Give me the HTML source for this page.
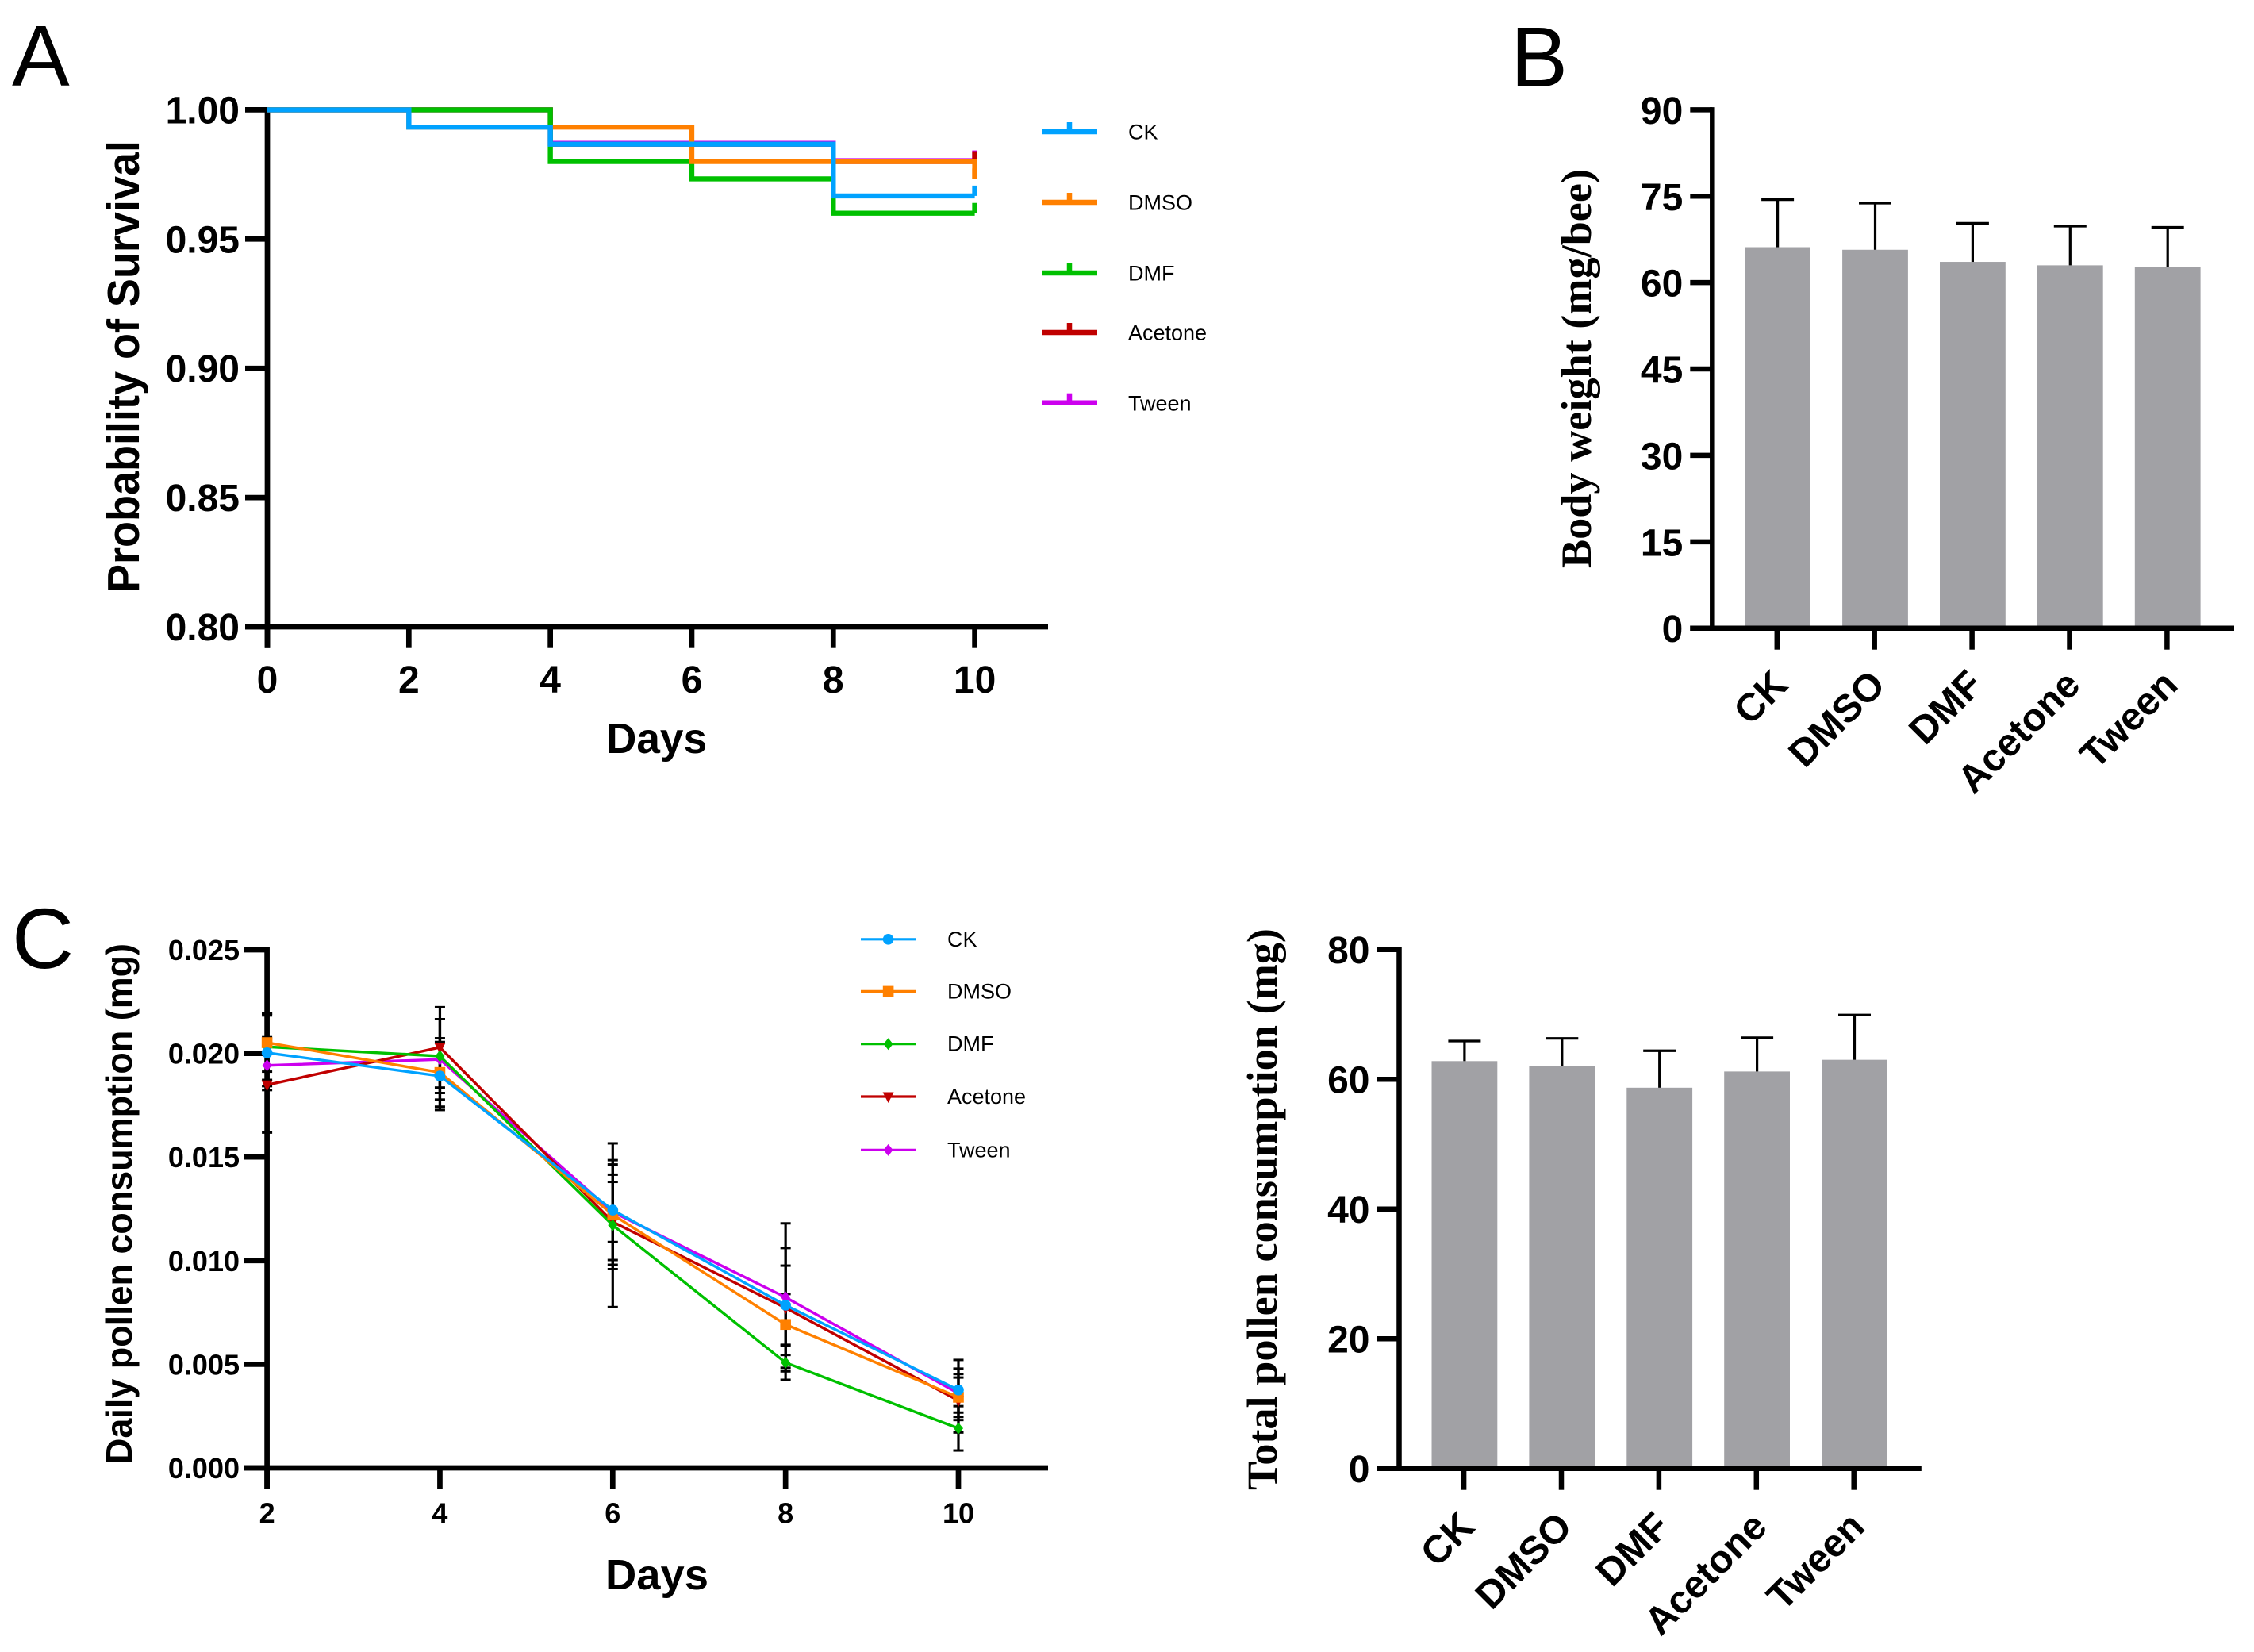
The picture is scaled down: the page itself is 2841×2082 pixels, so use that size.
<!DOCTYPE html>
<html lang="en">
<head>
<meta charset="utf-8">
<title>Survival, body weight and pollen consumption charts</title>
<style>
html,body{margin:0;padding:0;background:#fff;}
svg{display:block;}
</style>
</head>
<body>
<svg id="fig" xmlns="http://www.w3.org/2000/svg" width="2841" height="2082" viewBox="0 0 2841 2082">
<rect width="2841" height="2082" fill="#ffffff"></rect>
</svg>
<script>
// ---------- shared data ----------
const groupNames = ['CK', 'DMSO', 'DMF', 'Acetone', 'Tween'];
const groupSlugs = ['ck', 'dmso', 'dmf', 'acetone', 'tween'];
const groupColors = ['#00a2ff', '#ff8000', '#00c000', '#c00000', '#cc00ee'];

// ---------- panel A: survival ----------
const survivalDays = [0, 2, 4, 6, 8, 10];
const survivalCK = [1, 0.9933, 0.9867, 0.9867, 0.9667, 0.9667];
const survivalDMSO = [1, 0.9933, 0.9933, 0.98, 0.98, 0.9733];
const survivalDMF = [1, 1, 0.98, 0.9733, 0.96, 0.96];
const survivalAcetone = [1, 1, 0.9867, 0.9867, 0.98, 0.98];
const survivalTween = [1, 1, 0.987, 0.987, 0.9803, 0.9803];
const survivalYTicks = ['0.80', '0.85', '0.90', '0.95', '1.00'];
const survivalXTicks = ['0', '2', '4', '6', '8', '10'];

// ---------- panel B: body weight ----------
const weightMeans = [66.15, 65.7, 63.6, 63.0, 62.7];
const weightUpper = [74.4, 73.8, 70.3, 69.8, 69.6];
const weightYTicks = ['0', '15', '30', '45', '60', '75', '90'];

// ---------- panel C: daily consumption ----------
const dailyDays = [2, 4, 6, 8, 10];
const dailyCK = [0.02003, 0.01891, 0.01244, 0.00785, 0.00376];
const dailyDMSO = [0.02052, 0.01908, 0.01222, 0.00692, 0.00341];
const dailyDMF = [0.02032, 0.01987, 0.01171, 0.00508, 0.00191];
const dailyAcetone = [0.01848, 0.02029, 0.01187, 0.00772, 0.00325];
const dailyTween = [0.01942, 0.01971, 0.01235, 0.00823, 0.0036];
const dailyErrCK = [0.0018, 0.00164, 0.00241, 0.00191, 0.00145];
const dailyErrDMSO = [0.0014, 0.00165, 0.00242, 0.00147, 0.00095];
const dailyErrDMF = [0.0016, 0.00178, 0.00395, 0.00083, 0.00107];
const dailyErrAcetone = [0.0023, 0.00194, 0.00228, 0.00289, 0.00154];
const dailyErrTween = [0.001, 0.00194, 0.00145, 0.00357, 0.00093];
const dailyYTicks = ['0.000', '0.005', '0.010', '0.015', '0.020', '0.025'];
const dailyXTicks = ['2', '4', '6', '8', '10'];

// ---------- panel D: total consumption ----------
const totalMeans = [62.8, 62.06, 58.7, 61.2, 63.0];
const totalUpper = [65.9, 66.3, 64.4, 66.4, 69.9];
const totalYTicks = ['0', '20', '40', '60', '80'];

// ---------- helpers ----------
const NS = 'http://www.w3.org/2000/svg';
const SANS = '"Liberation Sans", Arial, sans-serif';
const SERIF = '"Liberation Serif", "Times New Roman", serif';
const root = document.getElementById('fig');

function make(parent, tag, name, attrs) {
  const el = document.createElementNS(NS, tag);
  
  
  for (const k in attrs) el.setAttribute(k, attrs[k]);
  parent.appendChild(el);
  return el;
}
function group(parent, name) { return make(parent, 'g', name, {}); }
function line(parent, name, x1, y1, x2, y2, w, color, cap) {
  return make(parent, 'line', name, {x1: x1, y1: y1, x2: x2, y2: y2, stroke: color || '#000', 'stroke-width': w, 'stroke-linecap': cap || 'butt'});
}
function text(parent, name, str, x, y, size, opts) {
  const o = opts || {};
  const attrs = {x: x, y: y, 'font-size': size, 'font-family': o.family || SANS, 'font-weight': o.weight || 'bold', 'text-anchor': o.anchor || 'start', fill: '#000'};
  if (o.rotate !== undefined) attrs.transform = 'rotate(' + o.rotate + ' ' + x + ' ' + y + ')';
  if (o.len) { attrs.textLength = o.len; attrs.lengthAdjust = 'spacingAndGlyphs'; }
  const el = make(parent, 'text', name, attrs);
  el.textContent = str;
  return el;
}
function axesFrame(g, axisX, axisY, leftEnd, rightEnd, topY, bottomTick, sw) {
  line(g, 'y-axis-line', axisX, topY - sw / 2, axisX, bottomTick, sw);
  line(g, 'x-axis-line', leftEnd, axisY, rightEnd, axisY, sw);
}

// ---------- panel letters ----------
text(root, 'panel-label-a', 'A', 15, 108, 109, {weight: 'normal'});
text(root, 'panel-label-b', 'B', 1904, 109, 108, {weight: 'normal'});
text(root, 'panel-label-c', 'C', 15, 1220, 108, {weight: 'normal'});

// ---------- panel A ----------
(function () {
  const g = group(root, 'survival-chart');
  const xA = d => 337 + (d / 10) * (1228.6 - 337);
  const yA = v => 790 - ((v - 0.8) / 0.2) * (790 - 138.4);
  const sw = 6.7;

  survivalYTicks.forEach(t => {
    const y = yA(parseFloat(t));
    line(g, 'y-tick-' + t, 309, y, xA(0), y, sw);
    text(g, 'y-tick-label-' + t, t, 302, y + 17, 48, {anchor: 'end'});
  });
  survivalXTicks.forEach(t => {
    const x = xA(parseFloat(t));
    line(g, 'x-tick-' + t, x, yA(0.8), x, 816.7, sw);
    text(g, 'x-tick-label-' + t, t, x, 873, 48, {anchor: 'middle'});
  });
  axesFrame(g, xA(0), yA(0.8), 309, 1321, yA(1), 816.7, sw);
  text(g, 'x-axis-title', 'Days', 764, 949, 54, {len: 127});
  text(g, 'y-axis-title', 'Probability of Survival', 175, 747, 57, {rotate: -90, len: 570});

  const survivalSeries = [survivalCK, survivalDMSO, survivalDMF, survivalAcetone, survivalTween];
  [4, 3, 2, 1, 0].forEach(i => {
    const vals = survivalSeries[i];
    let d = 'M' + xA(survivalDays[0]) + ' ' + yA(vals[0]);
    for (let k = 1; k < survivalDays.length; k++) {
      d += 'L' + xA(survivalDays[k]) + ' ' + yA(vals[k - 1]) + 'L' + xA(survivalDays[k]) + ' ' + yA(vals[k]);
    }
    make(g, 'path', 'survival-line-' + groupSlugs[i], {d: d, fill: 'none', stroke: groupColors[i], 'stroke-width': 6.4, 'stroke-linejoin': 'miter'});
    const last = survivalDays.length - 1;
    line(g, 'censor-tick-' + groupSlugs[i], xA(survivalDays[last]), yA(vals[last]), xA(survivalDays[last]), yA(vals[last]) - 13, 6.5, groupColors[i]);
  });

  const legendLineY = [166, 255, 344, 419, 507.7];
  groupNames.forEach((n, i) => {
    const e = group(g, 'legend-entry-' + groupSlugs[i]);
    line(e, 'legend-line-' + groupSlugs[i], 1313, legendLineY[i], 1383, legendLineY[i], 6.5, groupColors[i]);
    line(e, 'legend-tick-' + groupSlugs[i], 1348, legendLineY[i], 1348, legendLineY[i] - 12, 6.5, groupColors[i]);
    text(e, 'legend-label-' + groupSlugs[i], n, 1422, legendLineY[i] + 9.7, 27, {weight: 'normal'});
  });
})();

// ---------- bar panels ----------
function barChart(name, cfg) {
  const g = group(root, name);
  const y = v => cfg.y0 - (v / cfg.max) * (cfg.y0 - cfg.yTop);
  const barX = i => cfg.x0 + i * cfg.step;
  const tickX = i => cfg.x0 - 0.8 + i * cfg.step;
  cfg.means.forEach((m, i) => {
    make(g, 'rect', 'bar-' + groupSlugs[i], {x: barX(i) - 41.4, y: y(m), width: 82.8, height: cfg.y0 - y(m), fill: '#a1a1a5'});
    const err = group(g, 'error-bar-' + groupSlugs[i]);
    line(err, 'error-stem-' + groupSlugs[i], barX(i), y(m), barX(i), y(cfg.upper[i]), 3.2);
    line(err, 'error-cap-' + groupSlugs[i], barX(i) - 20.5, y(cfg.upper[i]), barX(i) + 20.5, y(cfg.upper[i]), 3.2);
  });
  cfg.ticks.forEach(t => {
    const yy = y(parseFloat(t));
    line(g, 'y-tick-' + t, cfg.axisX - 28, yy, cfg.axisX, yy, 6.5);
    text(g, 'y-tick-label-' + t, t, cfg.axisX - 37, yy + 17.5, 48, {anchor: 'end'});
  });
  groupNames.forEach((n, i) => {
    line(g, 'x-tick-' + groupSlugs[i], tickX(i), cfg.y0, tickX(i), cfg.y0 + 27, 6.5);
    text(g, 'x-tick-label-' + groupSlugs[i], n, tickX(i) + 16, cfg.y0 + cfg.labelDy, 49, {anchor: 'end', rotate: -45});
  });
  axesFrame(g, cfg.axisX, cfg.y0, cfg.axisX - 28, cfg.rightEnd, cfg.yTop, cfg.y0 + 3, 6.5);
  text(g, 'y-axis-title', cfg.title, cfg.titleX, cfg.titleBottom, 54, {family: SERIF, rotate: -90, len: cfg.titleLen});
}
barChart('body-weight-chart', {
  means: weightMeans, upper: weightUpper, ticks: weightYTicks, max: 90,
  y0: 791.7, yTop: 138.4, axisX: 2158.3, rightEnd: 2816, x0: 2240.6, step: 122.9, labelDy: 74,
  title: 'Body weight (mg/bee)', titleX: 2005, titleBottom: 716, titleLen: 503
});
barChart('total-pollen-chart', {
  means: totalMeans, upper: totalUpper, ticks: totalYTicks, max: 80,
  y0: 1850.7, yTop: 1196.7, axisX: 1763.5, rightEnd: 2421.8, x0: 1845.9, step: 122.9, labelDy: 76,
  title: 'Total pollen consumption (mg)', titleX: 1609, titleBottom: 1878, titleLen: 708
});

// ---------- panel C ----------
(function () {
  const g = group(root, 'daily-pollen-chart');
  const xC = d => 336.6 + ((d - 2) / 8) * (1208 - 336.6);
  const yC = v => 1850 - (v / 0.025) * (1850 - 1197);
  const sw = 6.7;

  function marker(parent, kind, name, cx, cy, color) {
    if (kind === 0) return make(parent, 'circle', name, {cx: cx, cy: cy, r: 6.8, fill: color});
    if (kind === 1) return make(parent, 'rect', name, {x: cx - 6.8, y: cy - 6.8, width: 13.6, height: 13.6, fill: color});
    if (kind === 3) return make(parent, 'polygon', name, {points: (cx - 7) + ',' + (cy - 5.5) + ' ' + (cx + 7) + ',' + (cy - 5.5) + ' ' + cx + ',' + (cy + 8), fill: color});
    return make(parent, 'polygon', name, {points: cx + ',' + (cy - 7.5) + ' ' + (cx + 6) + ',' + cy + ' ' + cx + ',' + (cy + 7.5) + ' ' + (cx - 6) + ',' + cy, fill: color});
  }

  dailyYTicks.forEach(t => {
    const y = yC(parseFloat(t));
    line(g, 'y-tick-' + t, 308, y, xC(2), y, sw);
    text(g, 'y-tick-label-' + t, t, 302, y + 13, 36, {anchor: 'end'});
  });
  dailyXTicks.forEach(t => {
    const x = xC(parseFloat(t));
    line(g, 'x-tick-' + t, x, yC(0), x, 1876, sw);
    text(g, 'x-tick-label-' + t, t, x, 1919.5, 36, {anchor: 'middle'});
  });
  axesFrame(g, xC(2), yC(0), 308, 1321, yC(0.025), 1876, sw);
  text(g, 'x-axis-title', 'Days', 763, 2003, 54, {len: 130});
  text(g, 'y-axis-title', 'Daily pollen consumption (mg)', 166, 1845, 46, {rotate: -90, len: 656});

  const dailySeries = [dailyCK, dailyDMSO, dailyDMF, dailyAcetone, dailyTween];
  const dailyErrors = [dailyErrCK, dailyErrDMSO, dailyErrDMF, dailyErrAcetone, dailyErrTween];

  dailySeries.forEach((vals, i) => {
    const eg = group(g, 'error-bars-' + groupSlugs[i]);
    vals.forEach((v, k) => {
      const x = xC(dailyDays[k]);
      const hi = yC(v + dailyErrors[i][k]);
      const lo = yC(v - dailyErrors[i][k]);
      line(eg, 'error-stem', x, hi, x, lo, 3.2);
      line(eg, 'error-cap-upper', x - 6.5, hi, x + 6.5, hi, 3);
      line(eg, 'error-cap-lower', x - 6.5, lo, x + 6.5, lo, 3);
    });
  });
  [4, 3, 2, 1, 0].forEach(i => {
    const s = group(g, 'series-' + groupSlugs[i]);
    const vals = dailySeries[i];
    const pts = vals.map((v, k) => xC(dailyDays[k]) + ',' + yC(v)).join(' ');
    make(s, 'polyline', 'series-line-' + groupSlugs[i], {points: pts, fill: 'none', stroke: groupColors[i], 'stroke-width': 3.4});
    vals.forEach((v, k) => {
      marker(s, i, 'point-' + groupSlugs[i] + '-day-' + dailyDays[k], xC(dailyDays[k]), yC(v), groupColors[i]);
    });
  });

  const legendY = [1183.8, 1249.4, 1315.7, 1382, 1449.4];
  groupNames.forEach((n, i) => {
    const e = group(g, 'legend-entry-' + groupSlugs[i]);
    line(e, 'legend-line-' + groupSlugs[i], 1085, legendY[i], 1154.5, legendY[i], 3.2, groupColors[i]);
    marker(e, i, 'legend-marker-' + groupSlugs[i], 1119.6, legendY[i], groupColors[i]);
    text(e, 'legend-label-' + groupSlugs[i], n, 1194, legendY[i] + 9, 27, {weight: 'normal'});
  });
})();
</script>
</body>
</html>
